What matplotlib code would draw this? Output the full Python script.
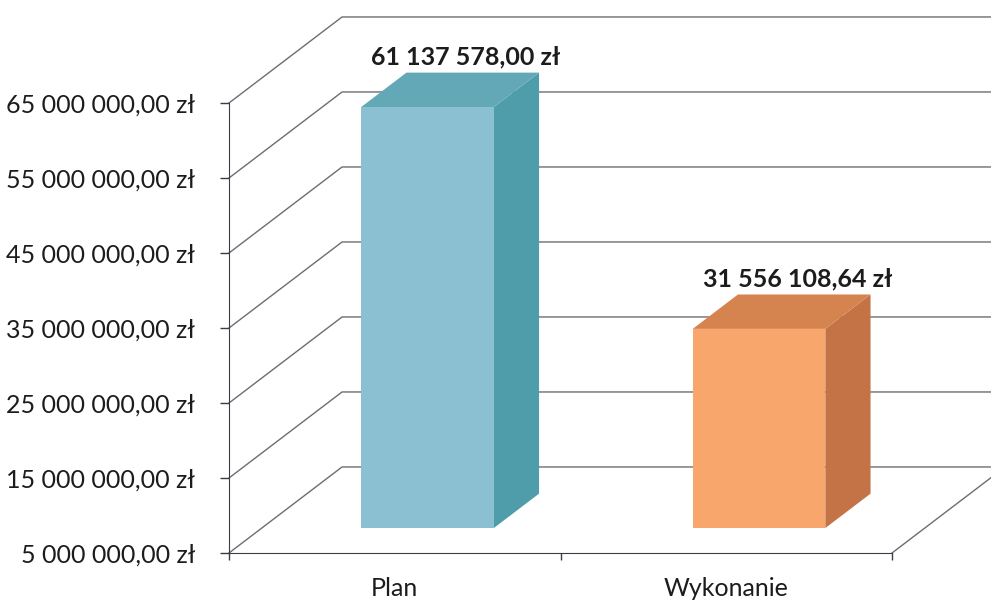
import matplotlib
matplotlib.use("Agg")
from matplotlib import pyplot as plt
from matplotlib.ticker import FuncFormatter

# data
categories = ["Plan", "Wykonanie"]
values = [61137578.00, 31556108.64]
value_labels = ["61 137 578,00 zł", "31 556 108,64 zł"]
y_ticks = [5e6, 15e6, 25e6, 35e6, 45e6, 55e6, 65e6]

front_colors = ["#8bc0d3", "#f9a66d"]
side_colors = ["#4f9daa", "#c47346"]
top_colors = ["#62a8b6", "#d6844f"]

plt.rcParams['font.family'] = ['Lato', 'DejaVu Sans']

y0 = 5e6
DX = 0.341      # shift in x for the full depth of the floor
DY = 11.47e6    # shift in y for the full depth of the floor
d_front, d_back = 0.29, 0.69
bar_w = 0.4
grid_col = "#6c6c74"


def proj(x, y, d):
    return x + d * DX, y + d * DY


def zl(v, pos):
    s = "{:,.2f}".format(v).replace(",", " ").replace(".", ",")
    return s + " zł"


fig = plt.figure(figsize=(9.91, 6.0), dpi=100)
ax = fig.add_axes([229 / 991, 47 / 600, 663 / 991, 450 / 600])
ax.set_xlim(0, 2)
ax.set_ylim(5e6, 65e6)

# back wall gridlines + diagonals on the side wall
for v in y_ticks:
    xb, yb = proj(0, v, 1)
    ax.plot([0, xb, 2.5], [v, yb, yb], color=grid_col, lw=1.0, clip_on=False, zorder=1)

# floor right edge
xr, yr = proj(2, y0, 1)
ax.plot([2, xr], [y0, yr], color=grid_col, lw=1.0, clip_on=False, zorder=1)

for i in range(len(categories)):
    c = i + 0.5
    v = values[i]
    l, r = c - bar_w / 2, c + bar_w / 2
    side = [proj(r, y0, d_front), proj(r, y0, d_back), proj(r, v, d_back), proj(r, v, d_front)]
    top = [proj(l, v, d_front), proj(r, v, d_front), proj(r, v, d_back), proj(l, v, d_back)]
    ax.fill([p[0] for p in side], [p[1] for p in side], color=side_colors[i], lw=0, clip_on=False, zorder=2)
    ax.fill([p[0] for p in top], [p[1] for p in top], color=top_colors[i], lw=0, clip_on=False, zorder=2)
    fx, fy = proj(c, y0, d_front)
    ax.bar(fx, v - y0, bottom=fy, width=bar_w, color=front_colors[i], lw=0, clip_on=False, zorder=3)
    tx, ty = proj(c - 0.02, v, d_back)
    ax.annotate(value_labels[i], (tx, ty), xytext=(0, 6), textcoords="offset points",
                ha="center", va="baseline", fontsize=18, fontweight="bold", color="#1c1c1c",
                annotation_clip=False, zorder=4)

ax.set_yticks(y_ticks)
ax.yaxis.set_major_formatter(FuncFormatter(zl))
ax.set_xticks([0, 1, 2])
ax.set_xticklabels([])
ax.set_xticks([0.5, 1.5], minor=True)
ax.set_xticklabels(categories, minor=True)
ax.tick_params(axis="y", direction="out", length=6.5, width=1, color="#3c3c48", pad=18,
               labelsize=18, labelcolor="#1c1c1c")
ax.tick_params(axis="x", which="major", direction="out", length=5, width=1, color="#3c3c48")
ax.tick_params(axis="x", which="minor", length=0, pad=17, labelsize=18, labelcolor="#1c1c1c")

for s in ["top", "right"]:
    ax.spines[s].set_visible(False)
ax.spines["left"].set_color("#3c3c48")
ax.spines["bottom"].set_color("#3c3c48")
ax.patch.set_visible(False)

fig.savefig("out.png", dpi=100)
